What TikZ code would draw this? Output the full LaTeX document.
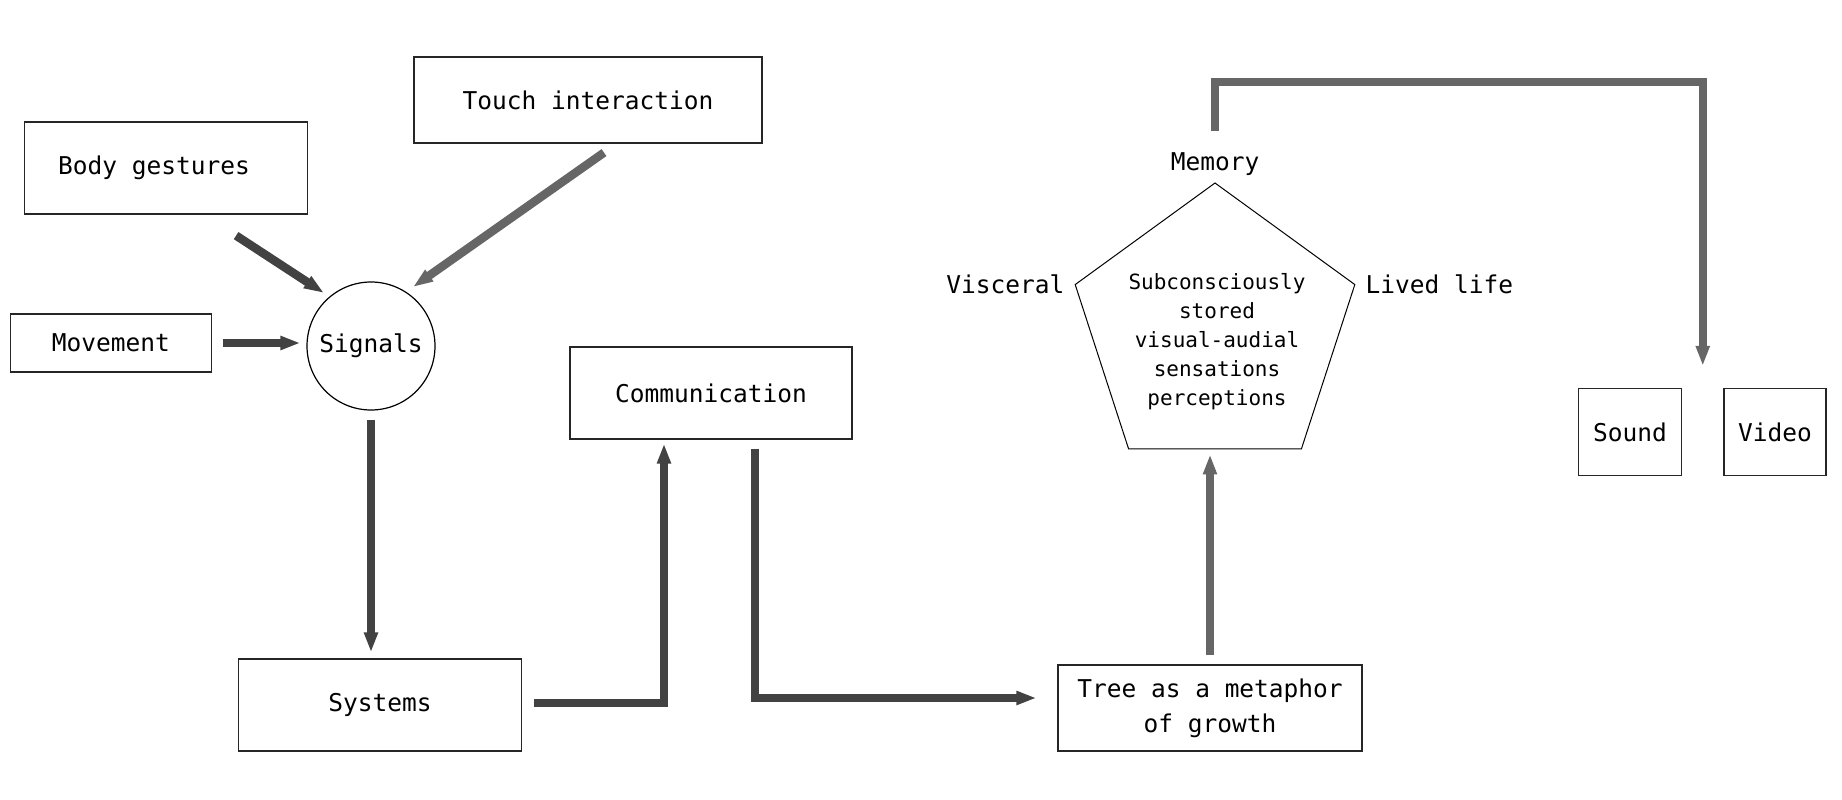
\documentclass[tikz,border=0pt]{standalone}
\usepackage{fontspec}
\setmainfont{DejaVu Sans Mono}
\usetikzlibrary{arrows.meta,shapes.geometric,calc}
\definecolor{darkline}{RGB}{66,66,66}
\definecolor{lightline}{RGB}{102,102,102}

\begin{document}
\begin{tikzpicture}[x=1pt,y=-1pt,
  box/.style={draw=black!85,line width=1.2pt,inner sep=0pt,font=\fontsize{24.5}{35}\selectfont},
  word/.style={inner sep=4pt,font=\fontsize{24.5}{30}\selectfont},
  pent/.style={regular polygon,regular polygon sides=5,draw,line width=1pt,minimum size=294pt,inner sep=0pt},
  darr/.style={draw=darkline,line width=8.5pt,-{Triangle[length=20pt,width=13pt]}},
  larr/.style={draw=lightline,line width=8.5pt,-{Triangle[length=20pt,width=13pt]}}]
\useasboundingbox (0,0) rectangle (1842,800);

\draw (166,168)  node (body)  [box,minimum width=283pt,minimum height=92pt] {Body gestures\hspace*{24pt}};
\draw (588,100)  node (touch) [box,minimum width=348pt,minimum height=86pt] {Touch interaction};
\draw (111,343)  node (move)  [box,minimum width=201pt,minimum height=58pt] {Movement};
\draw (371,346)  node (signals) [circle,draw,line width=1.2pt,minimum size=128pt,inner sep=0pt,
                                 font=\fontsize{24.5}{30}\selectfont] {Signals};

\draw (711,393)  node (comm)  [box,minimum width=282pt,minimum height=92pt] {Communication};
\draw (380,705)  node (sys)   [box,minimum width=283pt,minimum height=92pt] {Systems};
\draw (1210,708) node (tree)  [box,minimum width=304pt,minimum height=86pt,align=center] {Tree as a metaphor\\of growth};

\draw (1215,330) node (mem) [pent] {};
\draw (1217,342) node (memtext) [align=center,font=\fontsize{21}{29}\selectfont]
  {Subconsciously\\stored\\visual-audial\\sensations\\perceptions};
\draw ([yshift=3pt]mem.corner 1) node (memory) [word,anchor=south] {Memory};
\draw ([xshift=-6pt]mem.corner 2) node (visceral) [word,anchor=east] {Visceral};
\draw ([xshift=6pt]mem.corner 5) node (lived) [word,anchor=west] {Lived life};

\draw (1630,432) node (sound) [box,minimum width=103pt,minimum height=87pt] {Sound};
\draw (1775,432) node (video) [box,minimum width=102pt,minimum height=87pt] {Video};

\draw[darr] ($(body.south east)+(-72,21)$) -- ($(signals.center)+(-47,-53)$);
\draw[larr] ($(touch.south)+(16,9)$) -- ($(signals.center)+(42,-59)$);
\draw[darr,shorten <=11pt,shorten >=6pt] (move.east) -- (move.east -| signals.west);
\draw[darr,shorten <=9pt,shorten >=6pt] (signals.south) -- (signals.south |- sys.north);
\draw[darr] ([xshift=12pt,yshift=2pt]sys.east) -| ([xshift=-47pt,yshift=-4pt]comm.south);
\draw[darr] ([xshift=44pt,yshift=-9pt]comm.south) |- ([xshift=-21pt,yshift=10pt]tree.west);
\draw[larr,shorten <=9pt,shorten >=5pt] (tree.north) -- (tree.north |- mem.corner 3);
\draw[larr] ([yshift=17pt]memory.north) -- ++(0,-49)
  -| ($(sound.north east)!0.5!(video.north west)+(0,-22)$);

\end{tikzpicture}
\end{document}
